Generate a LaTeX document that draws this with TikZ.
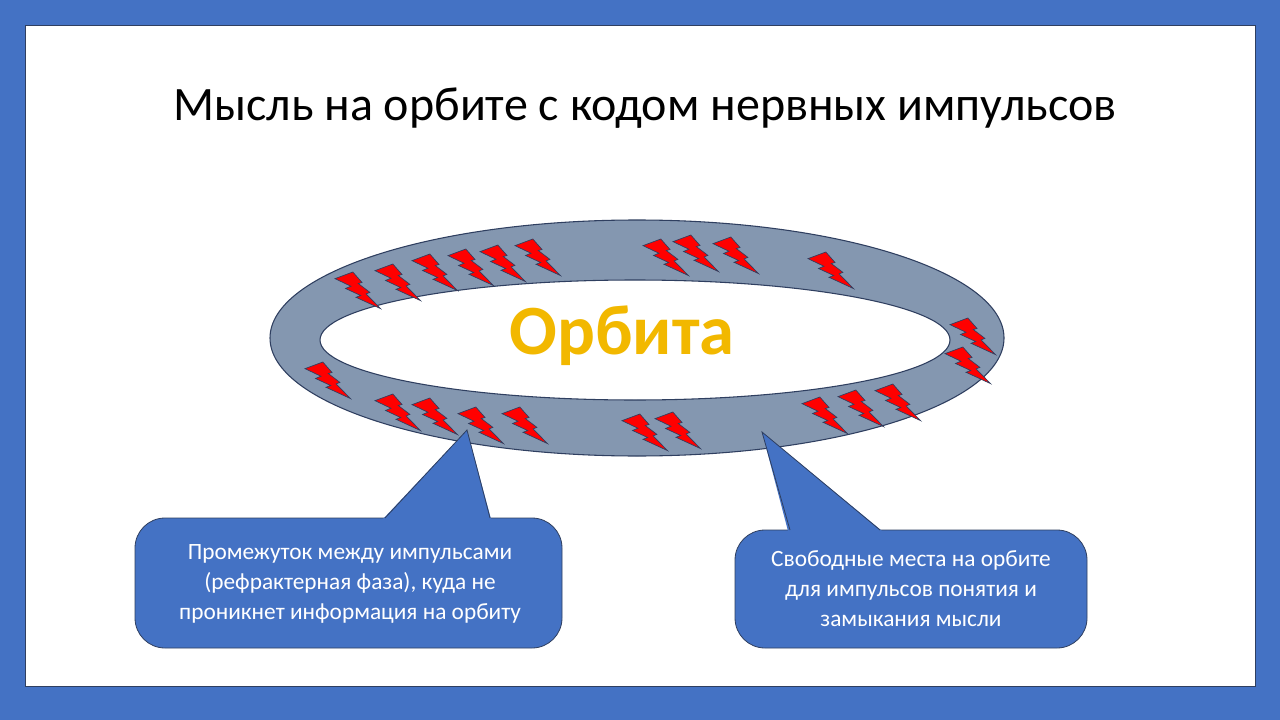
\documentclass[tikz,border=0pt]{standalone}
\usepackage{fontspec}
\setmainfont{Carlito}
\definecolor{frame}{HTML}{4472C4}
\definecolor{ring}{HTML}{8497B0}
\definecolor{dk}{HTML}{2F3F60}
\definecolor{gold}{HTML}{F2B800}
\tikzset{
 callout/.style={fill=frame,draw=dk,line width=0.6pt},
 bolt/.pic={\fill[red,draw=dk,line width=0.5pt,x=0.75pt,y=-0.75pt,xscale=0.0021,yscale=0.0017]
 (8458,0)--(0,3923)--(7564,8416)--(4993,9720)--(12197,13904)--(9987,14934)--(21600,21600)--(14768,12911)--(16558,12016)--(11030,6786)--(12831,6190)--cycle;}
}
\begin{document}
\begin{tikzpicture}[x=0.75pt,y=-0.75pt]
\fill[frame] (0,0) rectangle (1280,720);
\useasboundingbox (0,0) rectangle (1280,720);
\fill[white,draw=dk,line width=0.5pt] (25,25) rectangle (1255,686);
\node[font=\fontsize{36pt}{42pt}\selectfont] (title) at (645,108) {Мысль на орбите с кодом нервных импульсов};
\fill[ring,draw=dk,line width=0.8pt,even odd rule] (637,338) ellipse [x radius=367,y radius=118] (635,340) ellipse [x radius=315,y radius=60];
\foreach \p in {(335,272),(375,264),(412,254),(448,249),(480,245),(515,239),(643,239),(673,235),(713,237),(808,252),(950,318),(945,347),(305,362),(375,394),(412,398),(458,407),(502,407),(622,414),(655,412),(802,397),(838,390),(875,384)}
 \pic at \p {bolt};
\node[text=gold,font=\bfseries\fontsize{53pt}{58pt}\selectfont] (orb) at (622,336) {Орбита};
\coordinate (t1) at (467,430);
\coordinate (t2) at (762,432);
\draw[callout,rounded corners=22.5pt] (135,518) rectangle (562,648);
\fill[frame] (383,519) -- (t1) -- (491,519) -- cycle;
\draw[dk,line width=0.6pt] (385,518) -- (t1) -- (490,518);
\draw[callout,rounded corners=22.5pt] (735,530) rectangle (1087,648);
\fill[frame] (788,531) -- (t2) -- (882,531) -- cycle;
\draw[dk,line width=0.6pt] (790,530) -- (t2) -- (880,530);
\node[text=white,align=center,font=\fontsize{17.5pt}{22.5pt}\selectfont] (c1) at (350,584) {Промежуток между импульсами\\(рефрактерная фаза), куда не\\проникнет информация на орбиту};
\node[text=white,align=center,font=\fontsize{17.5pt}{22.5pt}\selectfont] (c2) at (911,589) {Свободные места на орбите\\для импульсов понятия и\\замыкания мысли};
\end{tikzpicture}
\end{document}
